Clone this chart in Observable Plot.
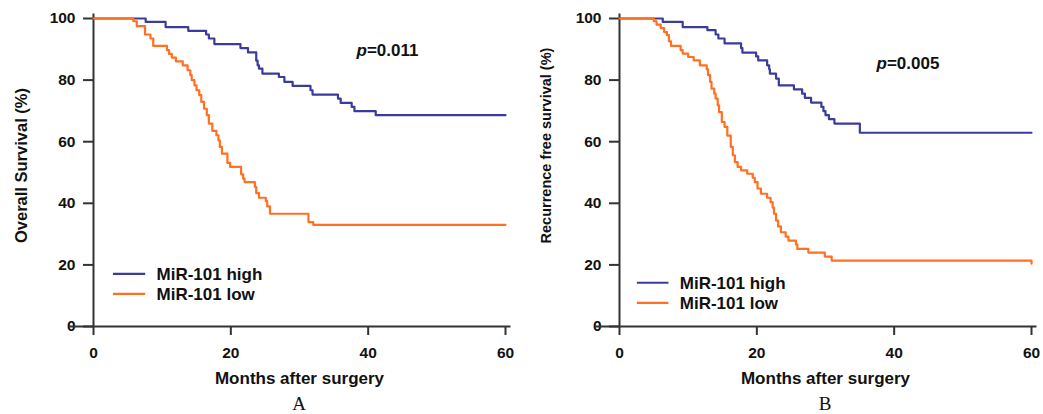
<!DOCTYPE html>
<html><head><meta charset="utf-8">
<script src="https://cdn.jsdelivr.net/npm/d3@7"></script>
<script src="https://cdn.jsdelivr.net/npm/@observablehq/plot@0.6"></script>
<style>
body{margin:0;background:#fff;}
#wrap{display:flex;width:1043px;height:414px;overflow:hidden;}
.panel{display:flex;flex-direction:column;}
.cap{font-family:"Liberation Serif","DejaVu Serif",serif;font-size:19px;line-height:21px;height:21px;padding-top:2.6px;text-align:center;color:#111;}
</style></head><body><div id="wrap"></div>
<script>
// ---- data ----
const xTicks = [0, 20, 40, 60];
const yTicks = [0, 20, 40, 60, 80, 100];
const groups = ["MiR-101 high", "MiR-101 low"];
const colors = ["#3b3b9c", "#ff7020"];

// A: overall survival
const osHighT = [0, 7.6, 10.5, 13.8, 16.4, 16.8, 17.6, 21.4, 22.5, 23.7, 23.9, 24.1, 24.6, 27.0, 27.8, 29.0, 31.6, 31.9, 35.6, 36.0, 37.6, 38.0, 41.1, 60];
const osHighS = [100, 98.9, 97.2, 96.0, 94.8, 93.5, 91.7, 90.4, 89.0, 86.3, 84.8, 83.7, 82.1, 81.0, 79.4, 78.1, 76.7, 75.3, 74.0, 72.6, 71.3, 69.9, 68.6, 68.6];
const osLowT = [0, 5.8, 6.3, 7.5, 8.3, 8.7, 10.7, 11.0, 11.4, 12.0, 13.0, 13.7, 14.1, 14.3, 14.7, 15.0, 15.4, 15.7, 16.1, 16.5, 16.8, 17.3, 17.9, 18.2, 18.4, 18.7, 19.5, 19.9, 21.5, 21.8, 22.0, 23.5, 23.7, 24.1, 25.1, 25.3, 25.7, 31.3, 32.0, 60];
const osLowS = [100, 99.1, 97.5, 94.8, 93.5, 91.1, 89.7, 88.5, 87.3, 86.1, 84.8, 83.2, 81.6, 80.0, 78.3, 76.7, 75.1, 72.9, 70.7, 68.6, 65.9, 63.5, 62.1, 60.4, 58.3, 56.1, 53.1, 51.8, 49.4, 48.0, 46.9, 45.3, 43.3, 41.8, 40.7, 39.0, 36.6, 33.9, 33.0, 33.0];

// B: recurrence free survival
const rfsHighT = [0, 6.3, 9.2, 12.8, 14.0, 14.4, 15.3, 17.7, 17.9, 19.9, 20.2, 21.5, 21.8, 21.9, 22.8, 23.2, 25.4, 26.6, 27.0, 27.9, 29.4, 29.7, 30.0, 30.5, 31.3, 35.0, 60];
const rfsHighS = [100, 98.9, 97.2, 96.2, 94.8, 93.5, 91.9, 90.4, 88.9, 87.7, 86.4, 84.8, 83.5, 82.1, 80.5, 78.3, 77.0, 75.6, 74.2, 72.7, 71.3, 69.9, 68.6, 67.3, 65.9, 62.9, 62.9];
const rfsLowT = [0, 5.0, 5.4, 6.0, 6.5, 6.9, 7.2, 7.5, 8.9, 9.2, 10.0, 10.8, 11.7, 12.7, 12.9, 13.2, 13.4, 13.8, 14.0, 14.3, 14.5, 14.9, 15.3, 15.7, 16.2, 16.5, 16.8, 17.2, 17.7, 18.6, 19.4, 19.7, 20.1, 20.6, 21.5, 22.0, 22.3, 22.5, 22.8, 23.1, 23.5, 24.2, 24.6, 25.7, 25.9, 27.5, 29.9, 30.9, 60];
const rfsLowS = [100, 99.1, 98.0, 96.9, 95.6, 94.6, 92.6, 91.1, 89.7, 88.6, 87.5, 86.4, 84.8, 83.5, 81.6, 79.4, 77.2, 75.6, 74.0, 71.8, 69.6, 66.4, 64.8, 62.0, 58.3, 55.6, 53.4, 51.8, 50.7, 49.6, 48.3, 46.9, 44.8, 43.1, 41.8, 40.4, 38.6, 36.6, 34.4, 32.5, 30.6, 29.2, 27.9, 26.6, 25.2, 24.0, 22.7, 21.4, 20.4];

const pValues = ["=0.011", "=0.005"];
const yTitles = ["Overall Survival (%)", "Recurrence free survival (%)"];
const xTitle = "Months after surgery";
const captions = ["A", "B"];

// ---- drawing ----
const FONT = "'Liberation Sans', Arial, Helvetica, sans-serif";
const toRows = (T, S, g) => T.map((t, i) => ({t, s: S[i], g}));

function panel(cfg) {
  const rows = [...toRows(cfg.highT, cfg.highS, groups[0]), ...toRows(cfg.lowT, cfg.lowS, groups[1])];
  const leg = groups.map((g, i) => ({g, y: cfg.legY[i]}));
  const H = 390;
  const legendText = groups.map((g, i) => Plot.text([g], {
    frameAnchor: "top-left", dx: cfg.legTextDx, dy: cfg.legTextDy[i], lineAnchor: "bottom",
    textAnchor: "start", fontSize: 17, fontWeight: "bold", fill: "#111"
  }));
  const plot = Plot.plot({
    width: cfg.w, height: H,
    marginLeft: cfg.ml, marginRight: cfg.mr, marginTop: 18, marginBottom: H - 326,
    x: {domain: [0, 60]},
    y: {domain: [0, 100]},
    color: {domain: groups, range: colors},
    style: {fontFamily: FONT, background: "#fff", overflow: "visible"},
    marks: [
      Plot.axisY({ticks: yTicks, tickSize: 10, tickPadding: 8, fontSize: 15.5, fontWeight: "bold", color: "#111", stroke: "#333", strokeWidth: 2, label: null}),
      Plot.axisX({ticks: xTicks, tickSize: 9, tickPadding: 11, fontSize: 15.5, fontWeight: "bold", color: "#111", stroke: "#333", strokeWidth: 2, label: null}),
      Plot.ruleX([0], {y1: 0, y2: 101.5, stroke: "#333", strokeWidth: 2}),
      Plot.ruleY([0], {x1: -3.5, x2: 60.8, stroke: "#333", strokeWidth: 2}),
      Plot.line(rows, {x: "t", y: "s", z: "g", stroke: "g", strokeWidth: 2.2, curve: "step-after"}),
      // legend
      Plot.ruleY(leg, {y: "y", x1: cfg.legX[0], x2: cfg.legX[1], stroke: "g", strokeWidth: 2.2}),
      ...legendText,
      // p value
      Plot.text(["p"], {frameAnchor: "top-left", dx: cfg.pDx, dy: cfg.pDy, lineAnchor: "bottom", textAnchor: "end", fontSize: 17, fontWeight: "bold", fontStyle: "italic", fill: "#111"}),
      Plot.text([cfg.p], {frameAnchor: "top-left", dx: cfg.pDx, dy: cfg.pDy, lineAnchor: "bottom", textAnchor: "start", fontSize: 17, fontWeight: "bold", fill: "#111"}),
      // titles
      Plot.text([xTitle], {frameAnchor: "bottom", dy: 57.3, lineAnchor: "bottom", fontSize: 17, fontWeight: "bold", fill: "#111"}),
      Plot.text([cfg.yTitle], {frameAnchor: "left", dx: cfg.yTitleDx, dy: cfg.yTitleDy, rotate: -90, lineAnchor: "middle", textAnchor: "middle", fontSize: cfg.yTitleSize, fontWeight: cfg.yTitleWeight, fill: "#111"})
    ]
  });
  const div = document.createElement("div");
  div.className = "panel";
  div.style.width = cfg.w + "px";
  div.appendChild(plot);
  const cap = document.createElement("div");
  cap.className = "cap";
  cap.style.marginLeft = cfg.ml + "px";
  cap.style.width = (cfg.w - cfg.ml - cfg.mr) + "px";
  cap.textContent = cfg.cap;
  div.appendChild(cap);
  return div;
}

const wrap = document.getElementById("wrap");
wrap.appendChild(panel({
  w: 521, ml: 93, mr: 16,
  highT: osHighT, highS: osHighS, lowT: osLowT, lowS: osLowS,
  legX: [2.9, 7.6], legY: [17.1, 10.6], legTextDx: 63, legTextDy: [261.3, 281.3],
  p: pValues[0], pDx: 273.4, pDy: 37.7,
  yTitle: yTitles[0], yTitleDx: -72, yTitleDy: -7, yTitleSize: 16.5, yTitleWeight: "bold",
  cap: captions[0]
}));
wrap.appendChild(panel({
  w: 522, ml: 98, mr: 12,
  highT: rfsHighT, highS: rfsHighS, lowT: rfsLowT, lowS: rfsLowS,
  legX: [2.6, 7.2], legY: [14.2, 7.7], legTextDx: 60.3, legTextDy: [270.3, 290.3],
  p: pValues[1], pDx: 267.4, pDy: 50.3,
  yTitle: yTitles[1], yTitleDx: -73, yTitleDy: -27, yTitleSize: 14.5, yTitleWeight: "bold",
  cap: captions[1]
}));
</script></body></html>
